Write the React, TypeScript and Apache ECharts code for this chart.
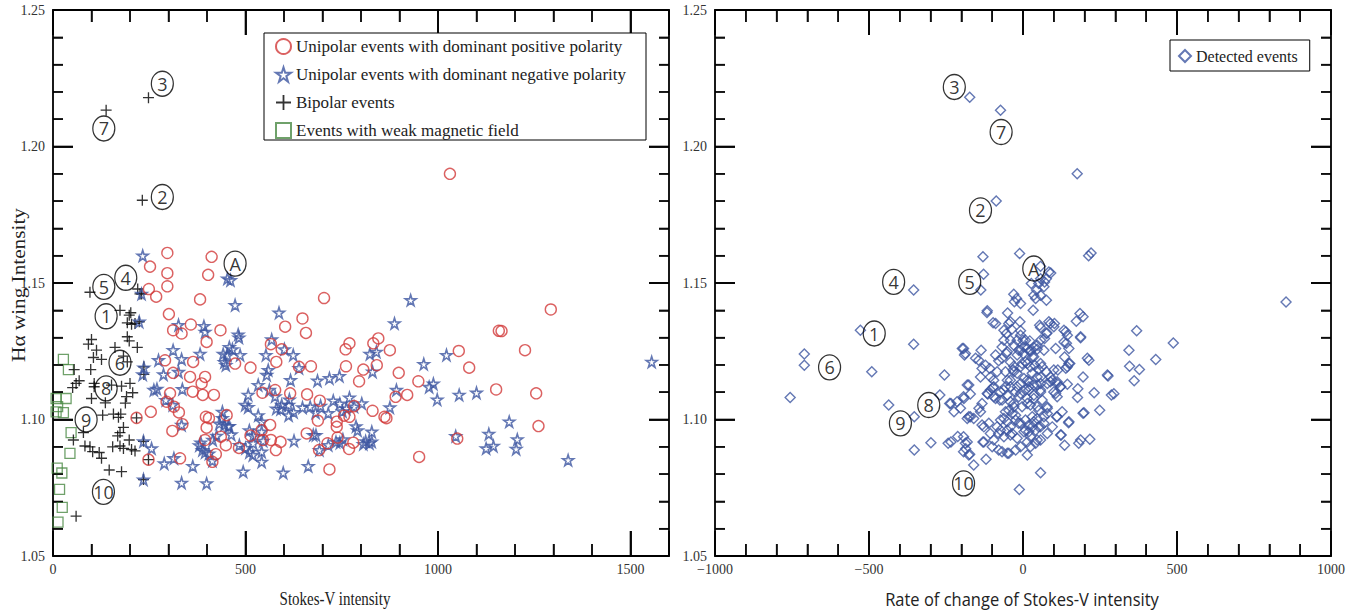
import React, { useEffect, useRef } from "react";
import * as echarts from "echarts";

// ---------- DATA (left panel: Stokes-V intensity vs Hα wing intensity) ----------
const unipolarPositive: [number, number][] = [
  [1031, 1.19], [297, 1.161], [412, 1.1596], [252, 1.156], [297, 1.1536], [403, 1.153], [297, 1.1488], [249, 1.1478],
  [268, 1.145], [382, 1.144], [704, 1.1445], [301, 1.1386], [648, 1.137], [603, 1.134], [657, 1.1317], [435, 1.1327],
  [312, 1.1327], [334, 1.1315], [358, 1.1348], [399, 1.1284], [566, 1.1276], [594, 1.1257], [580, 1.1211], [473, 1.1205],
  [513, 1.119], [639, 1.1193], [670, 1.1195], [291, 1.1217], [312, 1.1171], [364, 1.1211], [356, 1.1156], [395, 1.1156],
  [386, 1.1132], [363, 1.1102], [389, 1.109], [418, 1.109], [304, 1.1096], [295, 1.1065], [314, 1.1047], [327, 1.1026],
  [254, 1.1028], [336, 1.0983], [310, 1.0958], [544, 1.1098], [577, 1.1108], [616, 1.1096], [660, 1.1092], [693, 1.1069],
  [760, 1.1257], [770, 1.1279], [832, 1.1279], [845, 1.1297], [875, 1.1254], [761, 1.1195], [806, 1.1183], [841, 1.1199],
  [795, 1.114], [898, 1.1171], [949, 1.114], [1054, 1.1251], [1081, 1.119], [1158, 1.1325], [1151, 1.111], [920, 1.109],
  [890, 1.1083], [861, 1.101], [866, 1.1005], [830, 1.1032], [782, 1.1049], [770, 1.101], [756, 1.1014], [737, 1.0992],
  [737, 1.0973], [739, 1.0934], [780, 1.0915], [769, 1.0892], [713, 1.0913], [691, 1.0888], [718, 1.0817], [659, 1.0949],
  [688, 1.0996], [451, 1.1016], [436, 1.0937], [449, 1.0906], [423, 1.0873], [414, 1.0845], [483, 1.0896], [513, 1.0941],
  [542, 1.0961], [564, 1.098], [566, 1.0925], [591, 1.0918], [579, 1.0888], [545, 1.0925], [395, 1.0925], [397, 1.101],
  [405, 1.1005], [951, 1.0863], [1050, 1.093], [1293, 1.1403], [1165, 1.1324], [1226, 1.1254], [1255, 1.1096], [1261, 1.0976],
  [330, 1.0858], [217, 1.1006], [248, 1.0853], [399, 1.097],
];

const unipolarNegative: [number, number][] = [
  [233, 1.16], [453, 1.1516], [461, 1.151], [473, 1.1419], [587, 1.1391], [929, 1.1437], [887, 1.1352], [392, 1.1342],
  [395, 1.1321], [483, 1.13], [466, 1.1257], [442, 1.124], [486, 1.1236], [449, 1.1199], [568, 1.1293], [553, 1.1236],
  [624, 1.1236], [559, 1.1181], [555, 1.1163], [639, 1.1188], [617, 1.1144], [687, 1.1142], [718, 1.1151], [744, 1.1159],
  [823, 1.124], [840, 1.1248], [830, 1.1175], [963, 1.1203], [1022, 1.1236], [977, 1.1119], [988, 1.1131], [998, 1.1073],
  [1055, 1.109], [1100, 1.1098], [533, 1.1126], [507, 1.109], [499, 1.1053], [507, 1.1045], [562, 1.1108], [577, 1.1085],
  [594, 1.1053], [614, 1.1073], [612, 1.1053], [648, 1.1044], [668, 1.1047], [715, 1.1023], [728, 1.1069], [770, 1.108],
  [802, 1.1059], [782, 1.1047], [875, 1.1044], [892, 1.1108], [787, 1.0975], [828, 1.0955], [806, 1.091], [822, 1.0913],
  [745, 1.0915], [715, 1.0906], [692, 1.0888], [676, 1.0943], [683, 1.0943], [626, 1.0922], [598, 1.0805], [663, 1.0829],
  [494, 1.0809], [399, 1.0766], [542, 1.0992], [542, 1.0955], [546, 1.0922], [542, 1.0882], [542, 1.0845], [520, 1.0913],
  [484, 1.0906], [440, 1.1028], [432, 1.0985], [445, 1.098], [458, 1.0976], [463, 1.0945], [415, 1.0925], [384, 1.0915],
  [414, 1.0849], [1046, 1.0939], [1132, 1.0947], [1125, 1.0894], [1144, 1.0903], [1555, 1.1211], [1185, 1.0992], [1206, 1.0927],
  [1203, 1.0892], [1338, 1.0851], [326, 1.1346], [481, 1.1311], [312, 1.1254], [274, 1.1217], [334, 1.1221], [382, 1.124],
  [287, 1.1165], [326, 1.1174], [262, 1.1108], [270, 1.1112], [336, 1.1111], [293, 1.1071], [311, 1.1053], [334, 1.098],
  [256, 1.0894], [289, 1.0839], [314, 1.0858], [363, 1.0829], [334, 1.0768], [235, 1.092], [235, 1.078], [236, 1.119],
  [233, 1.1165], [230, 1.146], [224, 1.1358], [380, 1.0905], [388, 1.0888], [395, 1.088], [405, 1.0875], [425, 1.094],
  [440, 1.1005], [455, 1.0975], [533, 1.1015], [601, 1.1257], [458, 1.1265], [445, 1.121], [453, 1.1235], [580, 1.104],
  [591, 1.1038], [612, 1.1015], [625, 1.1027], [682, 1.1025], [695, 1.105], [745, 1.1058], [762, 1.104], [752, 1.103],
  [510, 1.096], [520, 1.094], [500, 1.0895], [510, 1.088], [519, 1.087], [791, 1.096], [828, 1.0919], [812, 1.092],
  [753, 1.0927], [735, 1.0918],
];

const bipolar: [number, number][] = [
  [248, 1.2179], [138, 1.2133], [232, 1.1803], [96, 1.1466], [220, 1.1478], [226, 1.146], [174, 1.14], [198, 1.1382],
  [193, 1.1354], [204, 1.1349], [213, 1.1352], [100, 1.1293], [92, 1.1276], [113, 1.1254], [105, 1.1227], [126, 1.122],
  [161, 1.1264], [193, 1.1303], [198, 1.1288], [219, 1.1264], [183, 1.1232], [193, 1.1211], [55, 1.1183], [98, 1.1183],
  [68, 1.1142], [60, 1.1132], [51, 1.1117], [107, 1.1132], [107, 1.112], [152, 1.1126], [178, 1.1122], [200, 1.1132],
  [207, 1.1098], [191, 1.1084], [100, 1.1077], [136, 1.1061], [129, 1.1016], [157, 1.102], [176, 1.102], [217, 1.1006],
  [79, 1.0952], [53, 1.0925], [183, 1.0971], [174, 1.0952], [168, 1.094], [198, 1.0925], [83, 1.0903], [96, 1.09],
  [103, 1.0882], [120, 1.0879], [126, 1.0858], [155, 1.09], [174, 1.0903], [183, 1.0894], [204, 1.089], [213, 1.0885],
  [235, 1.092], [248, 1.0853], [146, 1.0815], [178, 1.0809], [235, 1.078], [60, 1.0646], [230, 1.146], [236, 1.1193],
  [236, 1.1165], [224, 1.1358], [202, 1.1391], [170, 1.1008], [188, 1.106],
];

const weakField: [number, number][] = [
  [27, 1.122], [40, 1.1183], [8, 1.1077], [34, 1.1077], [12, 1.1047], [27, 1.1025], [8, 1.1028], [47, 1.0952],
  [44, 1.0876], [11, 1.0822], [23, 1.0804], [17, 1.0744], [24, 1.0678], [13, 1.0624],
];

// ---------- DATA (right panel: rate of change of Stokes-V vs Hα wing intensity) ----------
const detected: [number, number][] = [
  [-173, 1.218], [-73, 1.2133], [-87, 1.18], [176, 1.19], [-130, 1.1596], [-128, 1.1532], [-137, 1.1474], [-11, 1.1608],
  [-355, 1.1474], [-30, 1.1459], [213, 1.16], [221, 1.161], [854, 1.143], [-528, 1.1327], [-355, 1.1276], [-710, 1.124],
  [-710, 1.1199], [-491, 1.1175], [-756, 1.1081], [-436, 1.1053], [-353, 1.101], [-299, 1.0915], [-353, 1.0888], [-255, 1.1163],
  [-270, 1.109], [-234, 1.1059], [-224, 1.1028], [-243, 1.0913], [-234, 1.0918], [-212, 1.0938], [-186, 1.0893], [-173, 1.0873],
  [-160, 1.0833], [-120, 1.0854], [57, 1.0805], [-12, 1.0744], [-181, 1.1004], [-176, 1.101], [-133, 1.098], [-130, 1.0918],
  [-197, 1.126], [-190, 1.1236], [-154, 1.1224], [-136, 1.1254], [-117, 1.1392], [-50, 1.139], [-89, 1.1352], [-97, 1.1354],
  [-176, 1.1126], [-192, 1.1077], [-193, 1.0882], [-176, 1.087], [-193, 1.0937], [-187, 1.0913],
  [369, 1.1325], [488, 1.128], [344, 1.1254], [431, 1.122], [346, 1.1195], [378, 1.1183], [361, 1.1142], [276, 1.1159],
  [214, 1.1217], [187, 1.1299], [173, 1.136], [195, 1.1376], [185, 1.1388], [139, 1.1321], [152, 1.1205], [139, 1.1188],
  [195, 1.1156], [178, 1.1113], [177, 1.1081], [231, 1.1098], [287, 1.109], [295, 1.1094], [249, 1.1034], [195, 1.1023],
  [148, 1.0988], [124, 1.0943], [135, 1.0906], [181, 1.0913], [187, 1.0925], [217, 1.0928], [198, 1.1025], [149, 1.126],
  [133, 1.1284], [100, 1.1181], [149, 1.0992], [122, 1.112], [144, 1.1129], [144, 1.1193], [135, 1.1229], [106, 1.126],
  [113, 1.1181], [187, 1.1303], [141, 1.1279], [144, 1.1309], [133, 1.1327], [209, 1.1224], [274, 1.1163],
  [57, 1.1561], [84, 1.154], [76, 1.1516], [57, 1.1516], [27, 1.1498], [51, 1.1498], [68, 1.1486], [44, 1.1474],
  [35, 1.1455], [57, 1.1455], [76, 1.1437], [41, 1.1443], [-21, 1.1443], [-8, 1.1425], [-28, 1.1431], [33, 1.14],
  [-116, 1.1398], [-41, 1.1358], [-10, 1.1358], [-37, 1.133], [-8, 1.1325], [57, 1.1337], [84, 1.1358], [89, 1.1352],
  [100, 1.134], [76, 1.1315], [54, 1.1345], [78, 1.1317], [70, 1.1504], [90, 1.1537],
  [57, 1.129], [22, 1.1288], [-8, 1.1309], [-54, 1.1315], [-62, 1.129], [-68, 1.1266], [-41, 1.129], [-19, 1.129],
  [0, 1.129], [-193, 1.126], [-187, 1.1242], [-89, 1.1236], [-79, 1.1215], [-54, 1.1242], [-41, 1.1211], [-30, 1.1195],
  [-19, 1.1236], [-8, 1.1254], [1, 1.1242], [14, 1.126], [24, 1.1248], [30, 1.123], [35, 1.1264], [46, 1.1257],
  [-3, 1.1205], [8, 1.1211], [24, 1.1193], [38, 1.1199], [51, 1.1183], [62, 1.1193], [76, 1.1175], [89, 1.1156],
  [57, 1.1156], [149, 1.1205], [-181, 1.1126], [-138, 1.1156], [-122, 1.1199], [-133, 1.1187], [-106, 1.1156], [-95, 1.1144],
  [-84, 1.1175], [-57, 1.1175], [-32, 1.1181], [-19, 1.1169], [3, 1.115], [19, 1.1138], [30, 1.1169], [46, 1.1156],
  [-8, 1.1132], [57, 1.1132], [19, 1.112], [89, 1.1138], [111, 1.1138], [122, 1.112],
  [-144, 1.1217], [-108, 1.1187], [-97, 1.1117], [-114, 1.1093], [-95, 1.1083], [-75, 1.1071], [-62, 1.1108], [-41, 1.1144],
  [-30, 1.1175], [102, 1.1352], [70, 1.1297], [46, 1.1272], [68, 1.1254], [-30, 1.1272], [-51, 1.1248], [-68, 1.1224],
  [-62, 1.1327], [-46, 1.1352], [8, 1.129], [3, 1.1266], [-14, 1.1254], [24, 1.1254], [35, 1.123], [57, 1.1205],
  [14, 1.1205], [-8, 1.1193], [14, 1.1144], [35, 1.1126], [57, 1.1108], [19, 1.1108],
  [-238, 1.1059], [-214, 1.1065], [-193, 1.1083], [-171, 1.1093], [-203, 1.1041], [-171, 1.101], [-160, 1.1004], [-143, 1.1041],
  [-133, 1.1059], [-138, 1.1028], [-116, 1.1095], [-106, 1.1108], [-89, 1.1077], [-95, 1.112], [-73, 1.1101], [-57, 1.112],
  [-51, 1.1089], [-68, 1.1071], [-41, 1.1065], [-30, 1.1047], [-35, 1.1022], [-57, 1.1028], [-19, 1.112], [-8, 1.1095],
  [8, 1.1108], [14, 1.1077], [24, 1.1053], [46, 1.1126], [57, 1.1101], [35, 1.1089], [62, 1.1071], [51, 1.1034],
  [79, 1.1041], [46, 1.1004], [79, 1.1132], [100, 1.1101], [109, 1.101], [127, 1.1028], [122, 1.0943],
  [-127, 1.0973], [-111, 1.0986], [-84, 1.0973], [-106, 1.0949], [-95, 1.0925], [-79, 1.0949], [-62, 1.0937], [-51, 1.0961],
  [-35, 1.0949], [-19, 1.0931], [-8, 1.09], [14, 1.0918], [24, 1.0937], [41, 1.0961], [8, 1.0961], [19, 1.098],
  [35, 1.0992], [57, 1.0973], [68, 1.0986], [79, 1.1022], [-8, 1.0986], [-24, 1.0998], [-51, 1.0992], [-62, 1.1004],
  [-73, 1.0998], [-79, 1.0888], [-51, 1.0876], [14, 1.087], [41, 1.0913], [57, 1.0925], [-181, 1.0918], [-127, 1.0918],
  [-100, 1.09], [-68, 1.0882], [-46, 1.0876], [-24, 1.0888], [24, 1.09], [46, 1.0925], [19, 1.0955],
  [68, 1.101], [78, 1.1047], [111, 1.1083], [106, 1.1095], [111, 1.1132], [95, 1.1144],
  [-51, 1.1144], [-41, 1.112], [-24, 1.1101], [-14, 1.1083], [-30, 1.1059], [-46, 1.1034], [-24, 1.1016], [-3, 1.1047],
  [14, 1.1059], [35, 1.1077], [46, 1.1047], [30, 1.101], [8, 1.0998], [-14, 1.0986], [-41, 1.0973], [-73, 1.0961],
  [-41, 1.0943], [3, 1.0955], [30, 1.0973], [51, 1.0973], [79, 1.0949], [95, 1.0973], [111, 1.101],
];

// Circled event annotations [x, y, text]
const leftLabels: [number, number, string][] = [
  [284, 1.223, "3"], [132, 1.2066, "7"], [284, 1.1815, "2"], [473, 1.1571, "A"], [189, 1.1519, "4"], [132, 1.1486, "5"],
  [138, 1.1378, "1"], [174, 1.1208, "6"], [138, 1.1114, "8"], [86, 1.1, "9"], [131, 1.0735, "10"],
];
const rightLabels: [number, number, string][] = [
  [-223, 1.2218, "3"], [-71, 1.2053, "7"], [-138, 1.1766, "2"], [35, 1.1553, "A"], [-420, 1.1504, "4"], [-173, 1.1504, "5"],
  [-483, 1.1315, "1"], [-628, 1.1191, "6"], [-306, 1.1053, "8"], [-398, 1.0986, "9"], [-193, 1.0766, "10"],
];

const legendNames = [
  "Unipolar events with dominant positive polarity",
  "Unipolar events with dominant negative polarity",
  "Bipolar events",
  "Events with weak magnetic field",
];

// Axis ranges (major step, minor step)
const LEFT_X = { min: 0, max: 1600, major: 500, minor: 100 };
const RIGHT_X = { min: -1000, max: 1000, major: 500, minor: 100 };
const Y_RANGE = { min: 1.05, max: 1.25, major: 0.05, minor: 0.01 };

const SERIF = "'Liberation Serif', 'Times New Roman', serif";
const SANS = "'Open Sans', 'Noto Sans', sans-serif";
const RED = "#d23a3a";
const BLUE = "#3d56a1";
const GREEN = "#4b8a45";

const STAR = "path://M50,2 L61,37 L98,37 L68,59 L79,95 L50,73 L21,95 L32,59 L2,37 L39,37 Z";
const PLUS = "path://M4.4,0H5.6V4.4H10V5.6H5.6V10H4.4V5.6H0V4.4H4.4Z";
const ELLIPSE = "path://M0,50a50,50 0 1,0 100,0a50,50 0 1,0 -100,0";

const fmtY = (v: number) => v.toFixed(2);
const fmtLeftX = (v: number) => (Math.abs(v % 500) < 1e-6 ? String(v) : "");
const fmtRightX = (v: number) => (v < 0 ? "\u2212" + String(-v) : String(v));

type Range = { min: number; max: number; major: number; minor: number };

function mainAxis(gridIndex: number, position: string, r: Range,
  showLabel: boolean, formatter: (v: number) => string, isX: boolean) {
  return {
    type: "value", gridIndex, position, min: r.min, max: r.max, interval: r.major,
    splitLine: { show: false },
    axisLine: { show: true, onZero: false, lineStyle: { color: "#000", width: 1.8 } },
    axisTick: { show: true, inside: true, length: isX ? 25 : 20, lineStyle: { color: "#000", width: 1.8 } },
    minorTick: { show: true, splitNumber: 5, length: isX ? 12 : 10, lineStyle: { color: "#000", width: 1.5 } },
    axisLabel: { show: showLabel, formatter, fontFamily: SERIF, fontSize: 14, color: "#333", margin: isX ? 6 : 8 },
  } as any;
}

// Tick values of an axis range (interior only), split into major and minor
function tickValues(r: Range) {
  const major: number[] = [];
  const minor: number[] = [];
  const n = Math.round((r.max - r.min) / r.minor);
  const per = Math.round(r.major / r.minor);
  for (let i = 1; i < n; i++) {
    const v = +(r.min + i * r.minor).toFixed(6);
    (i % per === 0 ? major : minor).push(v);
  }
  return { major, minor };
}

// Inward tick marks drawn as thin rect symbols placed on the frame through the axes' scales
function tickSeries(xi: number, yi: number, xr: Range, yr: Range) {
  const xt = tickValues(xr);
  const yt = tickValues(yr);
  const mk = (data: number[][], size: number[], offset: number[]) => ({
    type: "scatter", xAxisIndex: xi, yAxisIndex: yi, silent: true, clip: false, z: 4,
    symbol: "rect", symbolSize: size, symbolOffset: offset,
    itemStyle: { color: "#000" }, data,
  });
  const XM = 25, Xm = 12, YM = 20, Ym = 10, W = 1.8, w = 1.5;
  return [
    mk(xt.major.map((v) => [v, yr.min]), [W, XM], [0, -XM / 2]),
    mk(xt.major.map((v) => [v, yr.max]), [W, XM], [0, XM / 2]),
    mk(xt.minor.map((v) => [v, yr.min]), [w, Xm], [0, -Xm / 2]),
    mk(xt.minor.map((v) => [v, yr.max]), [w, Xm], [0, Xm / 2]),
    mk(yt.major.map((v) => [xr.min, v]), [YM, W], [YM / 2, 0]),
    mk(yt.major.map((v) => [xr.max, v]), [YM, W], [-YM / 2, 0]),
    mk(yt.minor.map((v) => [xr.min, v]), [Ym, w], [Ym / 2, 0]),
    mk(yt.minor.map((v) => [xr.max, v]), [Ym, w], [-Ym / 2, 0]),
  ] as any[];
}

function labelSeries(data: [number, number, string][], xi: number, yi: number) {
  return {
    type: "scatter",
    xAxisIndex: xi,
    yAxisIndex: yi,
    symbol: ELLIPSE,
    symbolSize: [22, 25],
    z: 10,
    itemStyle: { color: "rgba(255,255,255,0)", borderColor: "#000", borderWidth: 1.3 },
    label: { show: true, position: "inside", formatter: "{b}", fontFamily: SANS, fontSize: 18, color: "#000" },
    data: data.map((d) => ({ name: d[2], value: [d[0], d[1]] })),
    silent: true,
  } as any;
}

export default function App() {
  const ref = useRef<HTMLDivElement>(null);
  useEffect(() => {
    if (!ref.current) return;
    const chart = echarts.init(ref.current, undefined, { renderer: "svg" });
    const hollow = (c: string, w = 1.4) => ({ color: "rgba(255,255,255,0)", borderColor: c, borderWidth: w });
    const option: any = {
      animation: false,
      backgroundColor: "#fff",
      grid: [
        { left: 53, top: 10, width: 616, height: 546 },
        { left: 715, top: 10, width: 616, height: 546 },
      ],
      xAxis: [
        mainAxis(0, "bottom", LEFT_X, true, fmtLeftX, true),
        mainAxis(0, "top", LEFT_X, false, fmtLeftX, true),
        mainAxis(1, "bottom", RIGHT_X, true, fmtRightX, true),
        mainAxis(1, "top", RIGHT_X, false, fmtRightX, true),
      ],
      yAxis: [
        mainAxis(0, "left", Y_RANGE, true, fmtY, false),
        mainAxis(0, "right", Y_RANGE, false, fmtY, false),
        mainAxis(1, "left", Y_RANGE, true, fmtY, false),
        mainAxis(1, "right", Y_RANGE, false, fmtY, false),
      ],
      graphic: [
        { type: "text", x: 19, y: 285, rotation: Math.PI / 2, scaleX: 1.18, z: 20,
          style: { text: "H\u03b1 wing Intensity", font: "18px " + SERIF, fill: "#222", align: "center", verticalAlign: "middle" } },
        { type: "text", x: 335, y: 599, z: 20, scaleY: 1.2,
          style: { text: "Stokes-V intensity", font: "15px " + SERIF, fill: "#222", align: "center", verticalAlign: "middle" } },
        { type: "text", x: 1022, y: 599, z: 20, scaleY: 1.1,
          style: { text: "Rate of change of Stokes-V intensity", font: "16.5px " + SANS, fill: "#222", align: "center", verticalAlign: "middle" } },
      ],
      legend: [
        {
          data: legendNames,
          orient: "vertical",
          left: 264,
          top: 33,
          padding: [5, 20, 1, 11],
          itemGap: 11,
          itemWidth: 15,
          itemHeight: 15,
          borderColor: "#000",
          borderWidth: 1,
          backgroundColor: "#fff",
          z: 20,
          textStyle: { fontFamily: SERIF, fontSize: 17, color: "#222" },
        },
        {
          data: ["Detected events"],
          orient: "vertical",
          left: 1170,
          top: 40,
          padding: [8, 12, 7, 8],
          itemWidth: 12,
          itemHeight: 12,
          borderColor: "#000",
          borderWidth: 1,
          backgroundColor: "#fff",
          z: 20,
          textStyle: { fontFamily: SERIF, fontSize: 16, color: "#222" },
        },
      ],
      series: [
        ...tickSeries(0, 0, LEFT_X, Y_RANGE),
        ...tickSeries(2, 2, RIGHT_X, Y_RANGE),
        { name: legendNames[3], type: "scatter", xAxisIndex: 0, yAxisIndex: 0, symbol: "rect", symbolSize: 10,
          itemStyle: hollow(GREEN, 1.3), data: weakField },
        { name: legendNames[2], type: "scatter", xAxisIndex: 0, yAxisIndex: 0, symbol: PLUS, symbolSize: 11,
          itemStyle: { color: "#000" }, data: bipolar },
        { name: legendNames[1], type: "scatter", xAxisIndex: 0, yAxisIndex: 0, symbol: STAR, symbolSize: 11,
          itemStyle: hollow(BLUE, 1.6), data: unipolarNegative },
        { name: legendNames[0], type: "scatter", xAxisIndex: 0, yAxisIndex: 0, symbol: "circle", symbolSize: 11,
          itemStyle: hollow(RED, 1.4), data: unipolarPositive },
        { name: "Detected events", type: "scatter", xAxisIndex: 2, yAxisIndex: 2, symbol: "diamond", symbolSize: 10,
          itemStyle: hollow(BLUE, 1.4), data: detected },
        labelSeries(leftLabels, 0, 0),
        labelSeries(rightLabels, 2, 2),
      ],
    };
    chart.setOption(option);
    return () => chart.dispose();
  }, []);
  return <div ref={ref} style={{ position: "absolute", left: 0, top: 0, width: 1370, height: 613 }} />;
}
